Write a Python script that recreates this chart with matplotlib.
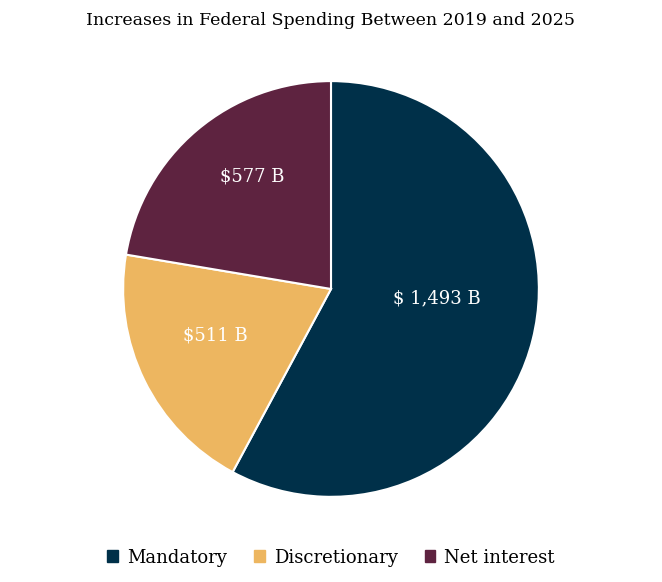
import matplotlib
matplotlib.use("Agg")
import matplotlib.pyplot as plt
from matplotlib.patches import Patch
import numpy as np

categories = ["Mandatory", "Discretionary", "Net interest"]
values = [1493, 511, 577]
labels = ["$ 1,493 B", "$511 B", "$577 B"]
colors = ["#003049", "#EDB660", "#5E2340"]

plt.rcParams['font.family'] = ['DejaVu Serif']
fig = plt.figure(figsize=(6.62, 5.82), dpi=100)
ax = fig.add_axes([0.186, 0.146, 0.628, 0.715])
wedges, _ = ax.pie(values, colors=colors, startangle=90, counterclock=False,
                   wedgeprops=dict(edgecolor="white", linewidth=1.5))
for w, lab, d, off in zip(wedges, labels, [0.51, 0.6, 0.66], [9, -4, -5]):
    ang = np.deg2rad((w.theta1 + w.theta2) / 2 + off)
    ax.text(d*np.cos(ang), d*np.sin(ang), lab, color="white", fontsize=13,
            ha="center", va="center")
ax.set_xlim(-1, 1)
ax.set_ylim(-1, 1)
ax.set_aspect("equal")
fig.text(0.5, 0.965, "Increases in Federal Spending Between 2019 and 2025",
         ha="center", va="center", fontsize=12.5)
handles = [Patch(color=c, label=l) for c, l in zip(colors, categories)]
fig.legend(handles=handles, loc="center", bbox_to_anchor=(0.5, 0.042), ncol=3,
           frameon=False, fontsize=13, handlelength=0.6, handleheight=0.6,
           columnspacing=1.5, handletextpad=0.5)
fig.savefig("out.png", dpi=100)
